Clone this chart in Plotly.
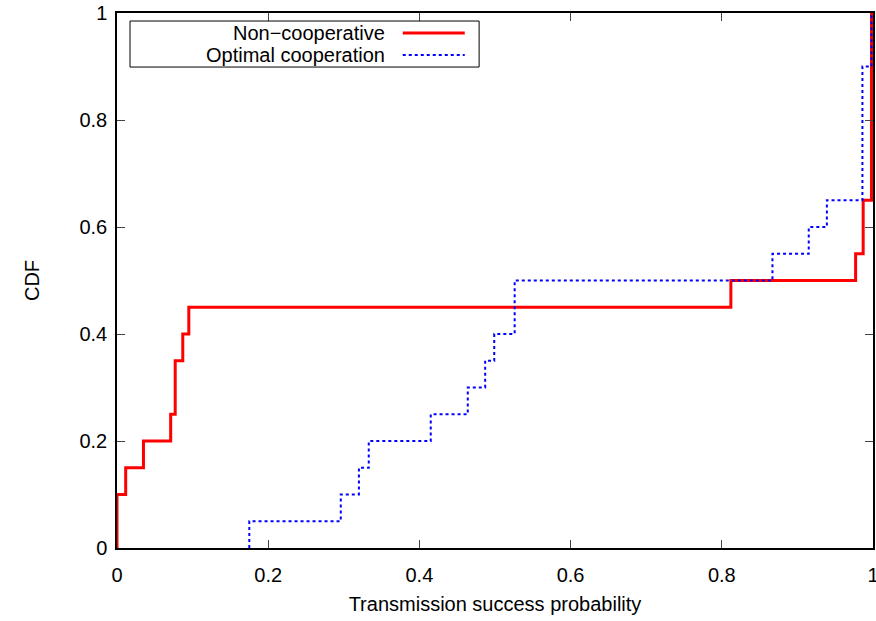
import plotly.graph_objects as go

# Step positions (sorted sample values) and CDF levels after each step
noncoop_x = [0.0, 0.0, 0.0115, 0.035, 0.071, 0.077, 0.087, 0.095, 0.812, 0.977, 0.987, 0.998]
noncoop_cdf = [0.0, 0.10, 0.15, 0.20, 0.25, 0.35, 0.40, 0.45, 0.50, 0.55, 0.65, 1.00]

optcoop_x = [0.175, 0.175, 0.296, 0.320, 0.333, 0.415, 0.464, 0.487, 0.499, 0.526,
             0.867, 0.915, 0.939, 0.986, 0.998]
optcoop_cdf = [0.0, 0.05, 0.10, 0.15, 0.20, 0.25, 0.30, 0.35, 0.40, 0.50,
               0.55, 0.60, 0.65, 0.90, 1.00]

tick_vals = [0, 0.2, 0.4, 0.6, 0.8, 1]
tick_text = ["0", "0.2", "0.4", "0.6", "0.8", "1"]

series_names = ["Non\u2212cooperative", "Optimal cooperation"]

FONT = "Liberation Sans, Arial, Helvetica, sans-serif"
FS = 20

fig = go.Figure()
fig.add_trace(go.Scatter(x=noncoop_x, y=noncoop_cdf, mode="lines", line_shape="hv",
                         line=dict(color="#ff0000", width=3), name=series_names[0],
                         showlegend=False))
fig.add_trace(go.Scatter(x=optcoop_x, y=optcoop_cdf, mode="lines", line_shape="hv",
                         line=dict(color="#0000ff", width=2, dash="dot"), name=series_names[1],
                         showlegend=False))

axis_common = dict(range=[0, 1], tickvals=tick_vals, ticktext=tick_text,
                   ticks="inside", ticklen=8, tickcolor="#444", tickwidth=1,
                   showline=True, linecolor="black", linewidth=1.5, mirror="ticks",
                   showgrid=False, zeroline=False, ticklabeloverflow="allow",
                   automargin=False,
                   tickfont=dict(family=FONT, size=FS, color="black"))

fig.update_xaxes(**axis_common, ticklabelstandoff=8,
                 title=dict(text="Transmission success probability",
                            font=dict(family=FONT, size=FS, color="black"), standoff=12))
fig.update_yaxes(**axis_common, ticklabelstandoff=4,
                 title=dict(text="CDF",
                            font=dict(family=FONT, size=FS, color="black"), standoff=34))

# Custom gnuplot-style legend (text right-aligned, sample to the right)
lx0, lx1, ly0, ly1 = 0.0172, 0.479, 0.899, 0.985
fig.add_shape(type="rect", xref="paper", yref="paper", x0=lx0, x1=lx1, y0=ly0, y1=ly1,
              line=dict(color="black", width=1), fillcolor="white", layer="above")
rows = [0.9626, 0.9215]
styles = [dict(color="#ff0000", width=3), dict(color="#0000ff", width=2, dash="dot")]
for name, yy, st in zip(series_names, rows, styles):
    fig.add_annotation(xref="paper", yref="paper", x=0.357, y=yy, text=name,
                       showarrow=False, xanchor="right", yanchor="middle",
                       font=dict(family=FONT, size=FS, color="black"))
    fig.add_shape(type="line", xref="paper", yref="paper", x0=0.378, x1=0.460, y0=yy, y1=yy,
                  line=st, layer="above")

fig.update_layout(width=876, height=621, margin=dict(l=117, r=3, t=13, b=73),
                  plot_bgcolor="white", paper_bgcolor="white", showlegend=False)

fig.write_html("out.html")
